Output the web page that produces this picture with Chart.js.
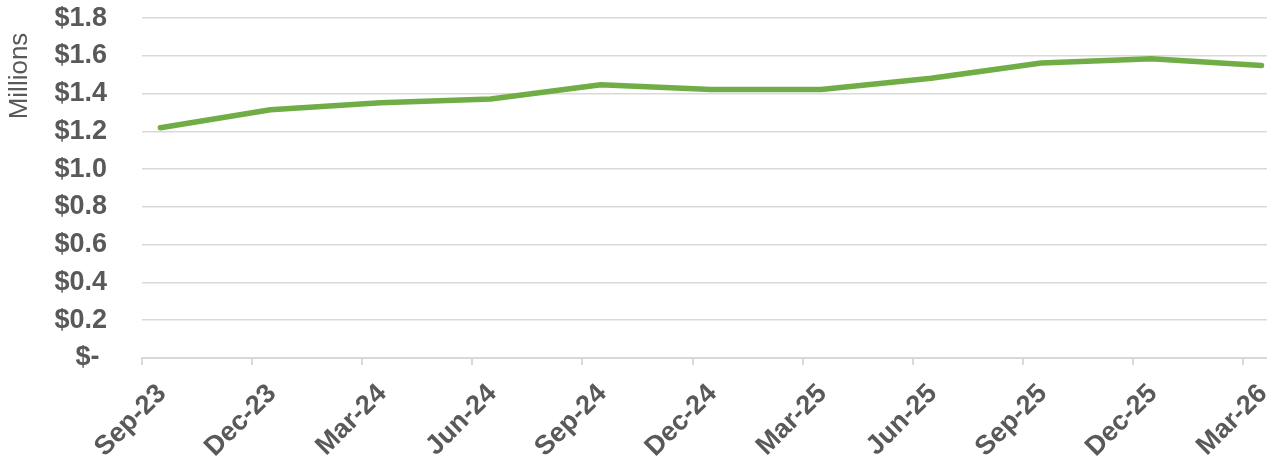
<!DOCTYPE html>
<html lang="en">
  <head>
    <meta charset="UTF-8" />
    <script src="https://cdn.jsdelivr.net/npm/chart.js"></script>
    <title>Millions chart</title>
    <style>
      html,
      body {
        margin: 0;
        padding: 0;
        background: #ffffff;
      }
      .chart-container {
        position: relative;
        width: 1267px;
        height: 462px;
      }
    </style>
  </head>
  <body>
    <div class="chart-container">
      <canvas id="valueChart"></canvas>
    </div>

    <script>
      // quarter labels on the x axis
      const quarters = [
        "Sep-23", "Dec-23", "Mar-24", "Jun-24", "Sep-24", "Dec-24",
        "Mar-25", "Jun-25", "Sep-25", "Dec-25", "Mar-26",
      ];
      // values in millions of dollars
      const values = [
        1.22, 1.315, 1.352, 1.372, 1.448, 1.422,
        1.422, 1.482, 1.563, 1.585, 1.549,
      ];
      const yTicks = [0, 0.2, 0.4, 0.6, 0.8, 1.0, 1.2, 1.4, 1.6, 1.8];

      const grey = "#595959";
      const gridGrey = "#d9d9d9";
      const tickFont = { family: "Liberation Sans, Arial", size: 27, weight: "bold" };

      // each point sits mid-month on a month-based axis
      const points = values.map((v, i) => ({ x: i * 3 + 0.5, y: v }));

      new Chart(document.getElementById("valueChart").getContext("2d"), {
        type: "line",
        data: {
          datasets: [
            {
              label: "Value",
              data: points,
              borderColor: "#70ad47",
              borderWidth: 5.5,
              borderCapStyle: "round",
              borderJoinStyle: "round",
              pointRadius: 0,
              tension: 0,
            },
          ],
        },
        options: {
          responsive: true,
          maintainAspectRatio: false,
          animation: false,
          layout: { padding: 0 },
          plugins: { legend: { display: false }, tooltip: { enabled: false } },
          scales: {
            x: {
              type: "linear",
              min: 0,
              max: 30.65,
              afterBuildTicks: (scale) => {
                scale.ticks = quarters.map((_, i) => ({ value: i * 3 }));
              },
              afterFit: (scale) => {
                scale.height = 104;
                // let the plot run to the right edge like the original
                scale.paddingLeft = 0;
                scale.paddingRight = 0;
              },
              border: { display: true, color: gridGrey, width: 2 },
              grid: {
                drawOnChartArea: false,
                drawTicks: true,
                tickLength: 7,
                color: gridGrey,
                lineWidth: 2,
              },
              ticks: {
                autoSkip: false,
                minRotation: 45,
                maxRotation: 45,
                labelOffset: 20,
                padding: 13,
                color: grey,
                font: tickFont,
                callback: (v) => quarters[Math.round(v / 3)],
              },
            },
            y: {
              min: 0,
              max: 1.8,
              afterBuildTicks: (scale) => {
                scale.ticks = yTicks.map((v) => ({ value: v }));
              },
              afterFit: (scale) => {
                scale.width = 142;
              },
              border: { display: false },
              grid: {
                color: gridGrey,
                lineWidth: 1.5,
                drawTicks: true,
                tickLength: 33,
                tickColor: "rgba(0,0,0,0)",
              },
              ticks: {
                padding: 2,
                color: grey,
                font: tickFont,
                callback: (v) => (v === 0 ? "$- " : "$" + v.toFixed(1)),
              },
              title: {
                display: true,
                text: "Millions  ",
                align: "end",
                color: grey,
                padding: { top: 4, bottom: 0 },
                font: { family: "Liberation Sans, Arial", size: 26 },
              },
            },
          },
        },
      });
    </script>
  </body>
</html>
